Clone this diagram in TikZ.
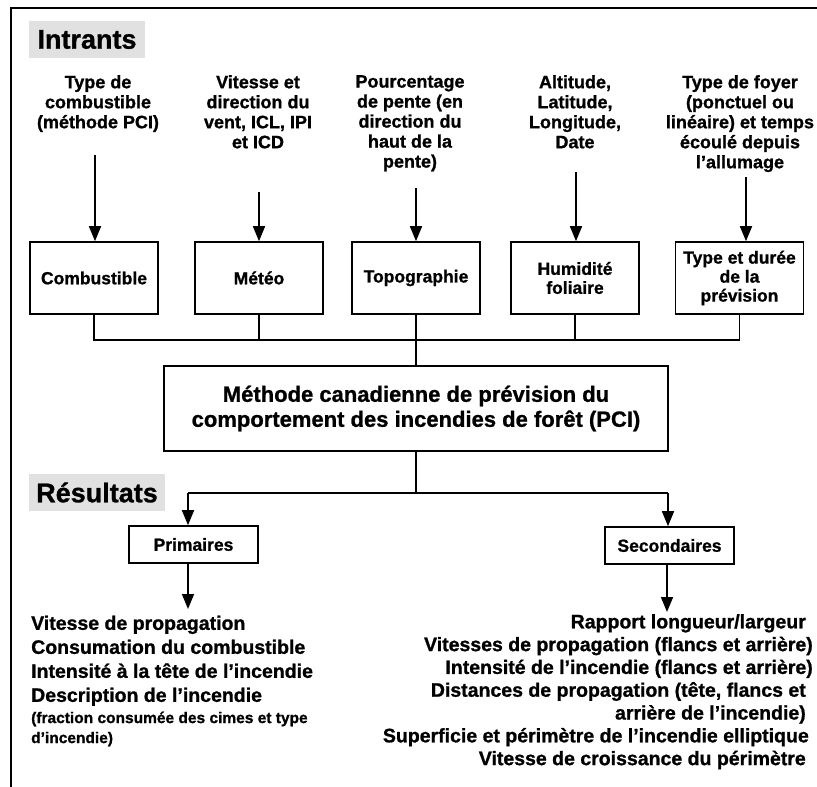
\documentclass[tikz,border=0pt]{standalone}
\usepackage{fontspec}
\setmainfont{Liberation Sans}[BoldFeatures={FakeBold=1}]
\usetikzlibrary{arrows.meta}
\definecolor{headgray}{RGB}{225,225,225}
\begin{document}
\begin{tikzpicture}[x=1pt,y=-1pt,
  box/.style={draw, line width=1.6pt, minimum width=128pt, minimum height=72pt, inner sep=0pt, align=center, font=\bfseries\fontsize{17.5}{19}\selectfont},
  smallbox/.style={draw, line width=1.6pt, minimum width=129pt, minimum height=37pt, inner sep=0pt, font=\bfseries\fontsize{17.5}{19}\selectfont},
  intxt/.style={anchor=north, align=center, inner sep=0pt, font=\bfseries\fontsize{18}{20}\selectfont},
  head/.style={fill=headgray, inner sep=0pt, minimum width=116pt, minimum height=37pt, font=\bfseries\fontsize{27}{30}\selectfont},
  conn/.style={line width=1.6pt},
  arr/.style={conn, -{Triangle[length=15pt,width=12pt]}},
]
\useasboundingbox (0,0) rectangle (817,787);
% frame
\draw[line width=2pt] (11,787) -- (11,8) -- (817,8);

% headers
\node[head] (intr) at (87,39.5) {Intrants};
\node[head, minimum width=136pt] (res) at (97,492.5) {Résultats};

% input texts
\node[intxt] (tcomb) at (98,75) {Type de\\combustible\\(méthode PCI)};
\node[intxt] (tmeteo) at (258,75) {Vitesse et\\direction du\\vent, ICL, IPI\\et ICD};
\node[intxt] (ttopo) at (410,75) {Pourcentage\\de pente (en\\direction du\\haut de la\\pente)};
\node[intxt] (thumi) at (575,75) {Altitude,\\Latitude,\\Longitude,\\Date};
\node[intxt] (ttype) at (740,75) {Type de foyer\\(ponctuel ou\\linéaire) et temps\\écoulé depuis\\l’allumage};

% input boxes
\node[box] (comb) at (94,278) {Combustible};
\node[box] (meteo) at (259,278) {Météo};
\node[box] (topo) at (416,278) {Topographie};
\node[box] (humi) at (575,278) {Humidité\\foliaire};
\node[box] (type) at (739.5,278) {Type et durée\\de la\\prévision};

% arrow starts
\coordinate (a1) at (95,155);
\coordinate (a2) at (259,192);
\coordinate (a3) at (416,188);
\coordinate (a4) at (576,172);
\coordinate (a5) at (746,177);
\draw[arr] (a1) -- (a1 |- comb.north);
\draw[arr] (a2) -- (a2 |- meteo.north);
\draw[arr] (a3) -- (a3 |- topo.north);
\draw[arr] (a4) -- (a4 |- humi.north);
\draw[arr] (a5) -- (a5 |- type.north);

% central box
\node[draw, line width=1.6pt, minimum width=504pt, minimum height=85pt, inner sep=0pt, align=center,
      font=\bfseries\fontsize{22}{25}\selectfont] (pci) at (416,408.5)
  {Méthode canadienne de prévision du\\comportement des incendies de forêt (PCI)};

% bus
\coordinate (bus) at (416,340);
\draw[conn] (comb.south) |- (bus) -| (type.south);
\draw[conn] (meteo.south) -- (meteo.south |- bus);
\draw[conn] (humi.south) -- (humi.south |- bus);
\draw[conn] (topo.south) -- (pci.north);

% outputs
\node[smallbox] (prim) at (193.5,544.5) {Primaires};
\node[smallbox] (sec) at (669.5,545.5) {Secondaires};
\coordinate (split) at (416,493);
\coordinate (pl) at (188,493);
\coordinate (pr) at (668,493);
\draw[conn] (pci.south) -- (split);
\draw[conn] (pl) -- (pr);
\draw[arr] (pl) -- (pl |- prim.north);
\draw[arr] (pr) -- (pr |- sec.north);

\coordinate (pa) at (188,609);
\coordinate (sa) at (667,612);
\draw[arr] (prim.south -| pa) -- (pa);
\draw[arr] (sec.south -| sa) -- (sa);

% result lists
\node[anchor=north west, align=left, inner sep=0pt, font=\bfseries\fontsize{19.5}{24}\selectfont] (plist) at (31,615.5)
  {Vitesse de propagation\\Consumation du combustible\\Intensité à la tête de l’incendie\\Description de l’incendie};
\node[anchor=north west, align=left, inner sep=0pt, font=\bfseries\fontsize{15.5}{20}\selectfont] (pnote) at (31,711.5)
  {(fraction consumée des cimes et type\\d’incendie)};
\node[anchor=north east, align=right, inner sep=0pt, font=\bfseries\fontsize{19.5}{22.8}\selectfont] (slist) at (806,614)
  {Rapport longueur/largeur\\\makebox[\dimexpr\width-7pt\relax][l]{Vitesses de propagation (flancs et arrière)}\\\makebox[\dimexpr\width-7pt\relax][l]{Intensité de l’incendie (flancs et arrière)}\\Distances de propagation (tête, flancs et\\arrière de l’incendie)\\\makebox[\dimexpr\width-3pt\relax][l]{Superficie et périmètre de l’incendie elliptique}\\Vitesse de croissance du périmètre};
\end{tikzpicture}
\end{document}
